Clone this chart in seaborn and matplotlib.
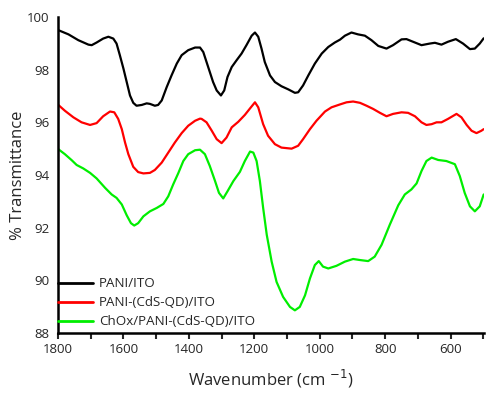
import numpy as np
import pandas as pd
import matplotlib
matplotlib.use("Agg")
import matplotlib.pyplot as plt
import seaborn as sns
from matplotlib.ticker import MultipleLocator

# ========== data ==========
pani_wn = [1799, 1768, 1738, 1707, 1697, 1682, 1662, 1646, 1631, 1621, 1611, 1600, 1590,
           1580, 1570, 1560, 1544, 1529, 1519, 1504, 1494, 1483, 1468, 1453, 1437, 1422,
           1402, 1381, 1366, 1356, 1346, 1336, 1326, 1315, 1302, 1292, 1282, 1269, 1254,
           1239, 1224, 1208, 1198, 1188, 1178, 1168, 1152, 1137, 1117, 1096, 1076, 1066,
           1051, 1035, 1015, 994, 974, 954, 938, 923, 903, 883, 862, 842, 821, 796, 776,
           750, 735, 715, 689, 664, 648, 628, 608, 584, 562, 541, 526, 511, 499]
pani_t = [99.50, 99.34, 99.12, 98.95, 98.93, 99.03, 99.18, 99.25, 99.18, 98.99, 98.55, 98.04, 97.53,
          97.02, 96.74, 96.63, 96.66, 96.72, 96.70, 96.63, 96.66, 96.83, 97.33, 97.78, 98.23, 98.55,
          98.74, 98.84, 98.84, 98.67, 98.29, 97.91, 97.53, 97.21, 97.02, 97.21, 97.72, 98.10, 98.36,
          98.61, 98.93, 99.29, 99.41, 99.25, 98.80, 98.29, 97.78, 97.53, 97.37, 97.25, 97.12, 97.14,
          97.40, 97.78, 98.23, 98.61, 98.86, 99.03, 99.14, 99.29, 99.41, 99.34, 99.29, 99.12, 98.90, 98.80, 98.93,
          99.15, 99.16, 99.06, 98.93, 98.99, 99.02, 98.95, 99.06, 99.16, 98.99, 98.78, 98.80, 98.99, 99.19]

cds_wn = [1799, 1779, 1753, 1728, 1702, 1682, 1662, 1641, 1628, 1616, 1605, 1595, 1585,
          1570, 1555, 1539, 1519, 1504, 1483, 1463, 1443, 1422, 1402, 1381, 1366, 1361,
          1346, 1330, 1315, 1300, 1285, 1269, 1249, 1229, 1213, 1198, 1188, 1173, 1158,
          1137, 1117, 1086, 1066, 1051, 1030, 1010, 984, 964, 938, 918, 898, 877, 857,
          837, 816, 796, 776, 750, 730, 709, 689, 674, 658, 643, 628, 608, 582, 567, 551,
          536, 521, 506, 499]
cds_t = [96.66, 96.44, 96.19, 96.00, 95.90, 95.97, 96.23, 96.41, 96.38, 96.13, 95.74, 95.23, 94.79,
         94.31, 94.11, 94.06, 94.08, 94.19, 94.47, 94.85, 95.23, 95.59, 95.87, 96.06, 96.14, 96.13,
         96.00, 95.68, 95.36, 95.21, 95.42, 95.81, 96.02, 96.28, 96.53, 96.76, 96.57, 95.93, 95.49,
         95.17, 95.04, 95.00, 95.11, 95.36, 95.74, 96.06, 96.41, 96.57, 96.68, 96.76, 96.79, 96.74, 96.63,
         96.51, 96.36, 96.23, 96.32, 96.38, 96.36, 96.23, 96.00, 95.90, 95.93, 96.00, 96.00, 96.13, 96.32, 96.19, 95.90,
         95.68, 95.59, 95.68, 95.74]

chox_wn = [1799, 1779, 1758, 1743, 1723, 1702, 1682, 1656, 1636, 1621, 1605, 1590, 1577,
           1567, 1555, 1539, 1519, 1498, 1478, 1463, 1448, 1432, 1417, 1402, 1381, 1366,
           1351, 1336, 1320, 1308, 1295, 1282, 1264, 1244, 1229, 1213, 1203, 1193, 1183,
           1173, 1162, 1147, 1132, 1112, 1091, 1076, 1061, 1045, 1030, 1015, 1003, 990,
           974, 949, 923, 898, 877, 852, 832, 811, 786, 760, 740, 720, 704, 689, 674, 658,
           638, 613, 587, 572, 557, 541, 526, 511, 499]
chox_t = [94.98, 94.79, 94.56, 94.38, 94.25, 94.08, 93.87, 93.51, 93.26, 93.13, 92.88, 92.47, 92.17,
          92.08, 92.17, 92.43, 92.62, 92.75, 92.90, 93.19, 93.64, 94.08, 94.53, 94.79, 94.94, 94.96,
          94.79, 94.34, 93.77, 93.32, 93.11, 93.38, 93.77, 94.12, 94.53, 94.89, 94.85, 94.53, 93.77,
          92.75, 91.73, 90.71, 89.94, 89.37, 88.99, 88.86, 88.99, 89.43, 90.07, 90.58, 90.73, 90.52,
          90.45, 90.55, 90.71, 90.81, 90.77, 90.73, 90.90, 91.35, 92.11, 92.85, 93.26, 93.45, 93.68, 94.15, 94.53, 94.66,
          94.57, 94.53, 94.41, 93.96, 93.32, 92.81, 92.62, 92.81, 93.26]

labels = ["PANI/ITO", "PANI-(CdS-QD)/ITO", "ChOx/PANI-(CdS-QD)/ITO"]
colors = ["#000000", "#ff0000", "#00ee00"]

df = pd.concat([
    pd.DataFrame({"wn": pani_wn, "T": pani_t, "sample": labels[0]}),
    pd.DataFrame({"wn": cds_wn, "T": cds_t, "sample": labels[1]}),
    pd.DataFrame({"wn": chox_wn, "T": chox_t, "sample": labels[2]}),
])

# ========== plot ==========
sns.set_style("white")
plt.rcParams["font.family"] = ["Open Sans", "DejaVu Sans"]

fig = plt.figure(figsize=(5, 3.95), dpi=100)
ax = fig.add_axes([0.116, 0.157, 0.852, 0.80])

sns.lineplot(data=df, x="wn", y="T", hue="sample", palette=colors,
             linewidth=1.6, ax=ax, estimator=None)

ax.set_xlim(1800, 498)
ax.set_ylim(88, 100)
ax.xaxis.set_major_locator(MultipleLocator(200))
ax.xaxis.set_minor_locator(MultipleLocator(100))
ax.yaxis.set_major_locator(MultipleLocator(2))

for s in ["top", "right"]:
    ax.spines[s].set_visible(False)
for s in ["left", "bottom"]:
    ax.spines[s].set_linewidth(1.8)
    ax.spines[s].set_color("black")

ax.tick_params(axis="x", which="both", direction="out", bottom=True,
               length=4, width=1.5, labelsize=9.5, pad=3)
ax.tick_params(axis="y", which="both", left=False, length=0, labelsize=9.5, pad=6)

ax.set_xlabel("Wavenumber (cm $^{-1}$)", fontsize=12, labelpad=9)
ax.set_ylabel("% Transmittance", fontsize=12, labelpad=1)

leg = ax.legend(loc="lower left", bbox_to_anchor=(0.0, 0.015), frameon=False,
                fontsize=9.6, handlelength=2.6, handletextpad=0.45,
                labelspacing=0.45, borderpad=0, borderaxespad=0)
for line in leg.get_lines():
    line.set_linewidth(2)

fig.savefig("out.png", dpi=100)
